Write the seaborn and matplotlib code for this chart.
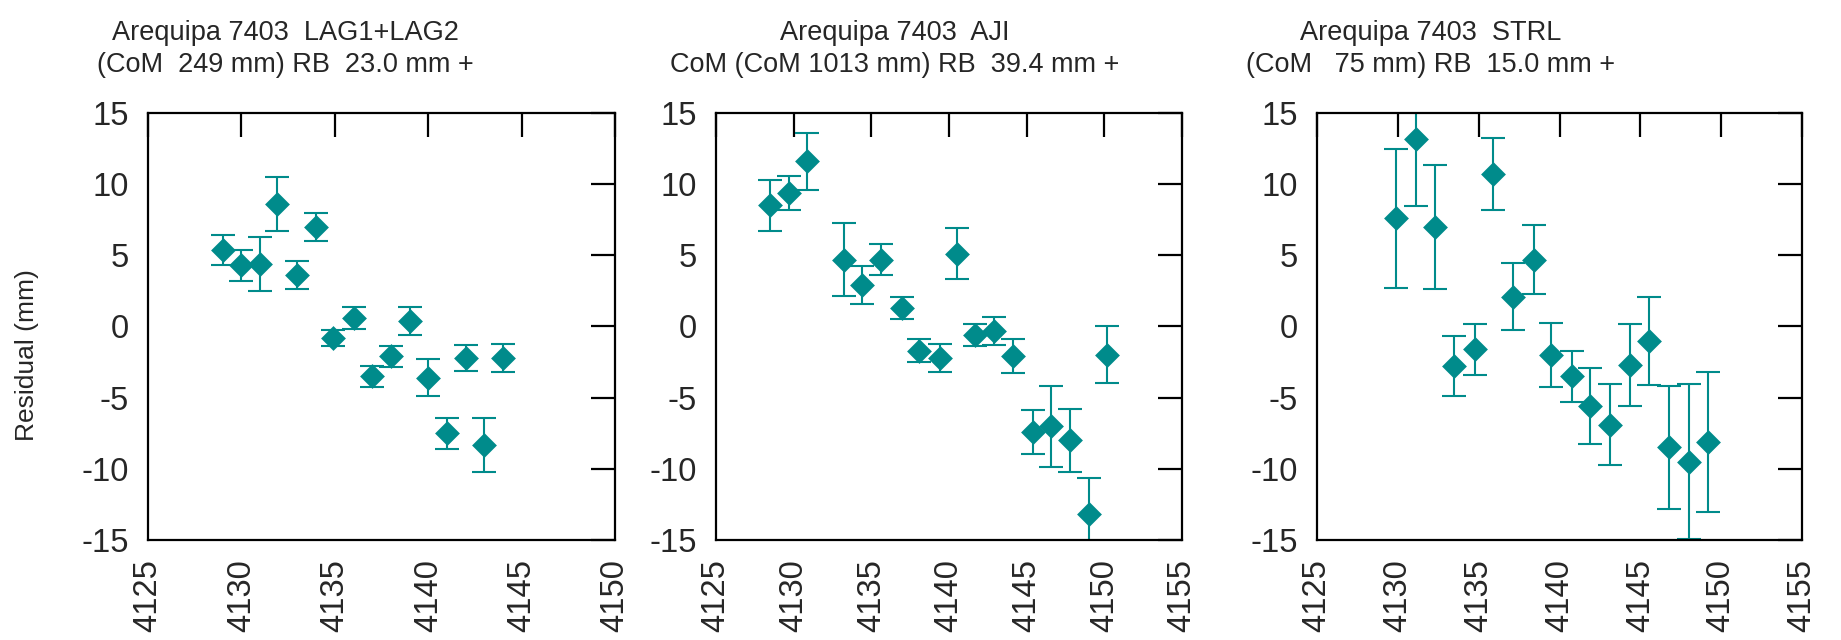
import numpy as np
import pandas as pd
import matplotlib
matplotlib.use("Agg")
import matplotlib.pyplot as plt
import seaborn as sns

# residuals per pass, three retroreflector targets
lag_x = [4129.0, 4130.0, 4131.0, 4131.9, 4133.0, 4134.0, 4134.9, 4136.0,
         4137.0, 4138.0, 4139.0, 4140.0, 4141.0, 4142.0, 4143.0, 4144.0]
lag_y = [5.4, 4.3, 4.4, 8.6, 3.6, 7.0, -0.8, 0.6,
         -3.5, -2.1, 0.4, -3.6, -7.5, -2.2, -8.3, -2.2]
lag_err = [1.05, 1.1, 1.9, 1.9, 1.0, 1.0, 0.55, 0.75,
           0.75, 0.75, 1.0, 1.3, 1.1, 0.9, 1.9, 1.0]

aji_x = [4128.45, 4129.7, 4130.85, 4133.25, 4134.4, 4135.65, 4137.0, 4138.1, 4139.4,
         4140.5, 4141.7, 4142.9, 4144.15, 4145.4, 4146.6, 4147.8, 4149.0, 4150.2]
aji_y = [8.5, 9.4, 11.6, 4.7, 2.9, 4.7, 1.3, -1.7, -2.2,
         5.1, -0.6, -0.3, -2.1, -7.4, -7.0, -8.0, -13.2, -2.0]
aji_err = [1.8, 1.2, 2.0, 2.55, 1.35, 1.1, 0.8, 0.8, 1.0,
           1.8, 0.8, 1.0, 1.2, 1.55, 2.85, 2.2, 2.55, 2.0]

strl_x = [4129.9, 4131.1, 4132.3, 4133.5, 4134.75, 4135.9, 4137.15, 4138.4, 4139.5,
          4140.75, 4141.9, 4143.15, 4144.35, 4145.55, 4146.8, 4148.0, 4149.2]
strl_y = [7.6, 13.2, 7.0, -2.8, -1.6, 10.7, 2.1, 4.7, -2.0,
          -3.5, -5.6, -6.9, -2.7, -1.0, -8.5, -9.5, -8.1]
strl_err = [4.9, 4.75, 4.35, 2.1, 1.8, 2.55, 2.35, 2.45, 2.25,
            1.8, 2.65, 2.85, 2.9, 3.1, 4.3, 5.45, 4.9]

titles = [
    "Arequipa 7403  LAG1+LAG2\n(CoM  249 mm) RB  23.0 mm +",
    "Arequipa 7403  AJI\nCoM (CoM 1013 mm) RB  39.4 mm +",
    "Arequipa 7403  STRL\n(CoM   75 mm) RB  15.0 mm +",
]
x_limits = [(4125, 4150), (4125, 4155), (4125, 4155)]

sns.set_theme(style="white")
plt.rcParams["font.family"] = ["Liberation Sans", "DejaVu Sans"]
plt.rcParams["axes.unicode_minus"] = False

color = "#008b8b"
fig = plt.figure(figsize=(18.41, 6.4), dpi=100)

# axes boxes in figure fraction: left, bottom, width, height
boxes = [(0.0804, 0.1563, 0.2537, 0.6672),
         (0.3889, 0.1563, 0.2531, 0.6672),
         (0.7154, 0.1563, 0.2634, 0.6672)]
title_pos = [0.295, 0.384, 0.235]

series = [(lag_x, lag_y, lag_err), (aji_x, aji_y, aji_err), (strl_x, strl_y, strl_err)]

for i, (xs, ys, es) in enumerate(series):
    ax = fig.add_axes(boxes[i])
    df = pd.DataFrame({"x": xs, "y": ys, "err": es})
    ax.errorbar(df["x"], df["y"], yerr=df["err"], fmt="none", ecolor=color,
                elinewidth=1.5, capsize=8.5, capthick=1.5, zorder=2)
    sns.scatterplot(data=df, x="x", y="y", marker="D", s=160, color=color,
                    linewidth=0, ax=ax, zorder=3)

    lo, hi = x_limits[i]
    ax.set_xlim(lo, hi)
    ax.set_ylim(-15, 15)
    ax.set_xticks(np.arange(lo, hi + 1, 5))
    ax.set_yticks(np.arange(-15, 16, 5))
    ax.tick_params(direction="in", top=True, right=True, length=17, width=1.6,
                   color="black", labelsize=23.5, pad=14)
    ax.tick_params(axis="x", labelrotation=90)
    for sp in ax.spines.values():
        sp.set_color("black")
        sp.set_linewidth(1.6)
    ax.set_xlabel("")
    ax.set_ylabel("")
    ax.text(title_pos[i], 1.082, titles[i], transform=ax.transAxes,
            ha="center", va="bottom", fontsize=19.5, linespacing=1.3)

fig.text(27 / 1841, 1 - 355 / 640, "Residual (mm)", rotation=90,
         ha="center", va="center", fontsize=19)

fig.savefig("out.png", dpi=100)
